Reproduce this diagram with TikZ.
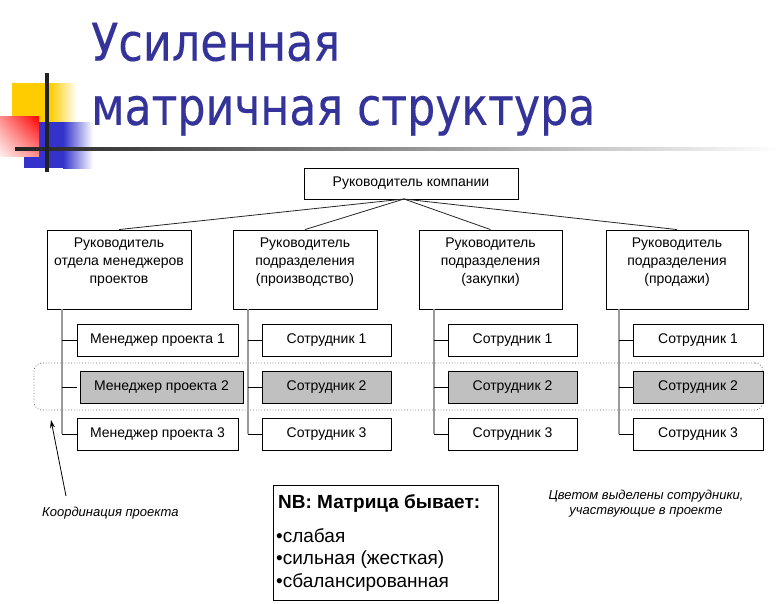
\documentclass[tikz,border=0pt]{standalone}
\usepackage{fontspec}
\setmainfont{Liberation Sans}
\newfontfamily\titlefont[FakeBold=0.3]{DejaVu Sans}
\usetikzlibrary{arrows.meta,calc,shadings}
\definecolor{ttl}{HTML}{333399}
\definecolor{dyel}{HTML}{FFCC00}
\definecolor{dblu}{HTML}{3333CC}
\definecolor{dred}{HTML}{FF0000}
\definecolor{boxgray}{HTML}{C0C0C0}
\definecolor{vgray}{HTML}{9A9A9A}
\definecolor{barblack}{HTML}{222222}
\begin{document}
\begin{tikzpicture}[x=1pt,y=-1pt,
  boxbase/.style={draw=black, line width=0.9pt, inner sep=0pt, font=\fontsize{14}{18}\selectfont},
  topbox/.style={boxbase, fill=white, minimum width=214pt, minimum height=31pt},
  headbox/.style={boxbase, fill=white, minimum height=79pt},
  headtext/.style={anchor=north, align=center, inner sep=0pt, font=\fontsize{14}{18}\selectfont},
  subbox/.style={boxbase, fill=white, minimum height=32pt},
  selbox/.style={subbox, fill=boxgray},
  link/.style={draw=black!85, line width=0.8pt},
  vline/.style={draw=vgray, line width=1.5pt},
  tick/.style={draw=black, line width=0.9pt},
  note/.style={inner sep=0pt, font=\fontsize{13}{15}\selectfont\itshape},
  nbtext/.style={inner sep=0pt, anchor=base west, font=\fontsize{19}{22}\selectfont},
  titletext/.style={inner sep=0pt, anchor=base west, text=ttl}
]
\useasboundingbox (0,0) rectangle (782,603);
\fill[white] (0,0) rectangle (782,603);

% decoration
\fill[dyel] (12,83) rectangle (50,122);
\shade[left color=dyel, right color=white] (50,83) rectangle (77,122);
\fill[dblu] (24,122) rectangle (63,168);
\shade[left color=dblu, right color=white] (63,122) rectangle (93,168);
\shade[upper right=dred, upper left=dred!45, lower right=dred!45, lower left=dred!6] (0,116) rectangle (39,156);
\shade[left color=barblack, middle color=black!50, right color=white] (15,147.3) rectangle (782,150.7);
\fill[barblack] (45,73) rectangle (49,172);

% title
\node[titletext] (t1) at (91,60.7) {\resizebox{249pt}{\height}{\titlefont\fontsize{52}{52}\selectfont Усиленная}};
\node[titletext] (t2) at (91,124.9) {\resizebox{504pt}{\height}{\titlefont\fontsize{52}{52}\selectfont матричная структура}};

% project band
\node[draw=black!60, dotted, line width=0.8pt, rounded corners=8pt, minimum width=729pt, minimum height=47pt, inner sep=0pt] (band) at (398.5,386.5) {};

% top
\node[topbox] (top) at (411,183.5) {Руководитель компании};
\coordinate (hub) at (404,199);

% heads
\node[headbox, minimum width=144pt] (h1) at (119,269.5) {};
\node[headbox, minimum width=144pt] (h2) at (305,269.5) {};
\node[headbox, minimum width=143pt] (h3) at (490.5,269.5) {};
\node[headbox, minimum width=142pt] (h4) at (677,269.5) {};
\node[headtext] (h1t) at ($(h1.north)+(0,8)$) {Руководитель\\отдела менеджеров\\проектов};
\node[headtext] (h2t) at ($(h2.north)+(0,8)$) {Руководитель\\подразделения\\(производство)};
\node[headtext] (h3t) at ($(h3.north)+(0,8)$) {Руководитель\\подразделения\\(закупки)};
\node[headtext] (h4t) at ($(h4.north)+(0,8)$) {Руководитель\\подразделения\\(продажи)};

\draw[link] (hub) -- (h1.north);
\draw[link] (hub) -- (h2.north);
\draw[link] (hub) -- (h3.north);
\draw[link] (hub) -- (h4.north);

% vertical lines
\coordinate (v1) at (62,309);
\coordinate (v2) at (248,309);
\coordinate (v3) at (434,309);
\coordinate (v4) at (619,309);

% sub boxes
\node[subbox, minimum width=161pt] (m1) at (157.5,340) {Менеджер проекта 1};
\node[selbox, minimum width=163pt] (m2) at (161.5,387) {Менеджер проекта 2};
\node[subbox, minimum width=161pt] (m3) at (157.5,434) {Менеджер проекта 3};
\node[subbox, minimum width=129pt] (a1) at (326.5,340) {Сотрудник 1};
\node[selbox, minimum width=129pt] (a2) at (326.5,387) {Сотрудник 2};
\node[subbox, minimum width=129pt] (a3) at (326.5,434) {Сотрудник 3};
\node[subbox, minimum width=129pt] (b1) at (512.5,340) {Сотрудник 1};
\node[selbox, minimum width=129pt] (b2) at (512.5,387) {Сотрудник 2};
\node[subbox, minimum width=129pt] (b3) at (512.5,434) {Сотрудник 3};
\node[subbox, minimum width=130pt] (c1) at (698,340) {Сотрудник 1};
\node[selbox, minimum width=130pt] (c2) at (698,387) {Сотрудник 2};
\node[subbox, minimum width=130pt] (c3) at (698,434) {Сотрудник 3};

\draw[vline] (v1) -- (v1 |- m3.west);
\draw[vline] (v2) -- (v2 |- a3.west);
\draw[vline] (v3) -- (v3 |- b3.west);
\draw[vline] (v4) -- (v4 |- c3.west);
\foreach \n in {m1,m3}{\draw[tick] (v1 |- \n.west) -- (\n.west);}
\draw[tick] (v1 |- m2.west) -- ++(15,0);
\foreach \n in {a1,a2,a3}{\draw[tick] (v2 |- \n.west) -- (\n.west);}
\foreach \n in {b1,b2,b3}{\draw[tick] (v3 |- \n.west) -- (\n.west);}
\foreach \n in {c1,c2,c3}{\draw[tick] (v4 |- \n.west) -- (\n.west);}

% arrow and notes
\node[note, anchor=base west] (coord) at (42,516) {Координация проекта};
\coordinate (arrS) at (66,496);
\coordinate (arrE) at (51,420);
\draw[line width=0.8pt, -{Stealth[length=8pt,width=5pt]}] (arrS) -- (arrE);
\node[note, anchor=north, align=center] (colnote) at (646,489.7) {Цветом выделены сотрудники,\\участвующие в проекте};

% NB box
\node[draw=black, line width=1pt, minimum width=225pt, minimum height=115pt, inner sep=0pt] (nb) at (385.5,542.5) {};
\node[nbtext, font=\fontsize{19}{22}\selectfont\bfseries] (nbt) at (278,508) {NB: Матрица бывает:};
\node[nbtext] (nb1) at (276,542) {•слабая};
\node[nbtext] (nb2) at (276,564.5) {•сильная (жесткая)};
\node[nbtext] (nb3) at (276,587) {•сбалансированная};
\end{tikzpicture}
\end{document}
